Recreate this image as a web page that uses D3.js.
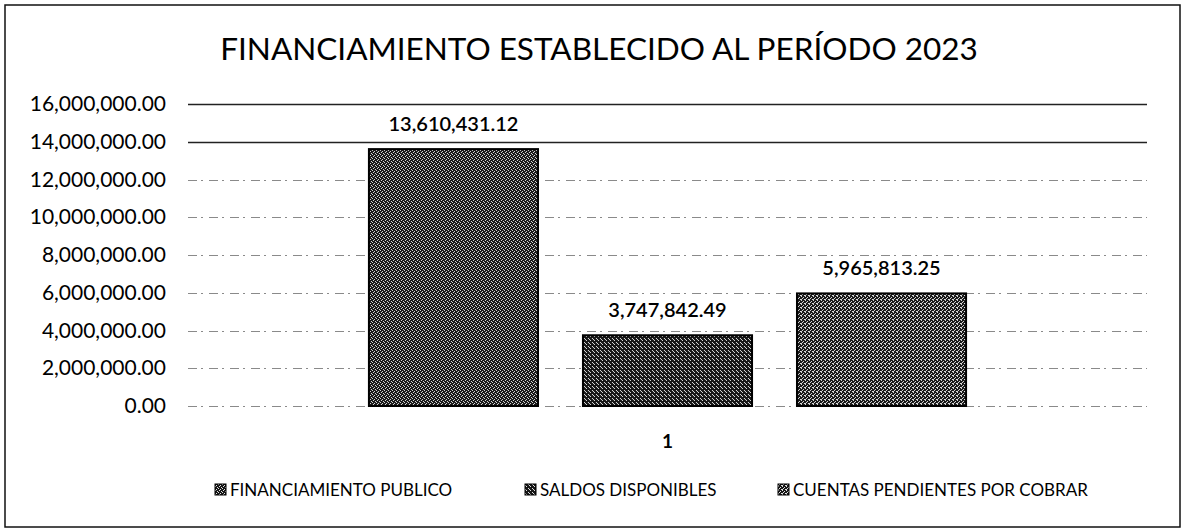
<!DOCTYPE html>
<html>
<head>
<meta charset="utf-8">
<script src="https://cdn.jsdelivr.net/npm/d3@7"></script>
<style>
  body { margin: 0; background: #fff; }
  text { font-family: Lato, "Open Sans", sans-serif; fill: #000; }
</style>
</head>
<body>
<svg id="chart" width="1185" height="531"></svg>
<script>
// data
var categories = ["1"];
var seriesNames = ["FINANCIAMIENTO PUBLICO", "SALDOS DISPONIBLES", "CUENTAS PENDIENTES POR COBRAR"];
var seriesValues = [13610431.12, 3747842.49, 5965813.25];
var yTicks = [0, 2000000, 4000000, 6000000, 8000000, 10000000, 12000000, 14000000, 16000000];
var chartTitle = "FINANCIAMIENTO ESTABLECIDO AL PERÍODO 2023";

var svg = d3.select("#chart");
var W = 1185, H = 531;
var plot = { left: 188, right: 1147, top: 104, bottom: 406 };

var fmt = d3.format(",.2f");

// halftone-ish fills, one per series (scan look)
var defs = svg.append("defs");
var dotSets = [
  [[0,0],[2,1],[1,3],[3,2]],
  [[1,0],[3,2],[0,3]],
  [[0,0],[2,1],[1,2],[3,3],[0,3]]
];
dotSets.forEach(function(dots, i) {
  var p = defs.append("pattern")
    .attr("id", "fill" + i)
    .attr("patternUnits", "userSpaceOnUse")
    .attr("width", 4).attr("height", 4);
  p.append("rect").attr("width", 4).attr("height", 4).attr("fill", "#161616");
  dots.forEach(function(d) {
    p.append("rect").attr("x", d[0]).attr("y", d[1])
      .attr("width", 1).attr("height", 1).attr("fill", "#e0e0e0");
  });
});

// outer frame
svg.append("rect")
  .attr("x", 5).attr("y", 5)
  .attr("width", W - 10).attr("height", H - 9)
  .attr("fill", "none").attr("stroke", "#111").attr("stroke-width", 1.5);

// title
svg.append("text")
  .attr("x", 599).attr("y", 60)
  .attr("text-anchor", "middle")
  .style("font-size", "31.5px")
  .text(chartTitle);

var y = d3.scaleLinear().domain([0, 16000000]).range([plot.bottom, plot.top]);

var x0 = d3.scaleBand()
  .domain(categories)
  .range([plot.left, plot.right])
  .paddingInner(0)
  .paddingOuter(0.303);

var x1 = d3.scaleBand()
  .domain(d3.range(seriesNames.length))
  .range([0, x0.bandwidth()])
  .paddingInner(0.21)
  .paddingOuter(0);

// grid lines
var grid = svg.append("g").attr("class", "grid");
grid.selectAll("line").data(yTicks).enter().append("line")
  .attr("x1", plot.left).attr("x2", plot.right)
  .attr("y1", function(d) { return Math.round(y(d)) + 0.5; })
  .attr("y2", function(d) { return Math.round(y(d)) + 0.5; })
  .attr("stroke", function(d) { return d >= 14000000 ? "#222" : "#8a8a8a"; })
  .attr("stroke-width", function(d) { return d >= 14000000 ? 1.5 : 1; })
  .attr("stroke-dasharray", function(d) { return d >= 14000000 ? null : "9,4,2,6"; });

// y axis labels
var yAxis = d3.axisLeft(y)
  .tickValues(yTicks)
  .tickFormat(fmt)
  .tickSize(0)
  .tickPadding(0);
svg.append("g")
  .attr("transform", "translate(" + 166 + ",0)")
  .call(yAxis)
  .call(function(g) { g.select(".domain").remove(); })
  .selectAll("text")
  .style("font-family", "Lato, sans-serif")
  .style("font-size", "21px")
  .attr("fill", "#000");

// bars
var groups = svg.selectAll(".cat").data(categories).enter().append("g")
  .attr("class", "cat")
  .attr("transform", function(c) { return "translate(" + x0(c) + ",0)"; });

groups.selectAll("rect").data(seriesValues).enter().append("rect")
  .attr("x", function(v, i) { return x1(i); })
  .attr("y", function(v) { return y(v); })
  .attr("width", x1.bandwidth())
  .attr("height", function(v) { return y(0) - y(v); })
  .attr("fill", function(v, i) { return "url(#fill" + i + ")"; })
  .attr("stroke", "#000")
  .attr("stroke-width", 2);

// value labels
groups.selectAll(".val").data(seriesValues).enter().append("text")
  .attr("class", "val")
  .attr("x", function(v, i) { return x1(i) + x1.bandwidth() / 2; })
  .attr("y", function(v) { return y(v) - 18; })
  .attr("text-anchor", "middle")
  .style("font-size", "20px")
  .style("font-weight", "600")
  .text(function(v) { return fmt(v); });

// category axis label
var xAxis = d3.axisBottom(x0).tickSize(0).tickPadding(0);
svg.append("g")
  .attr("transform", "translate(0," + 434 + ")")
  .call(xAxis)
  .call(function(g) { g.select(".domain").remove(); })
  .selectAll("text")
  .style("font-family", "Lato, sans-serif")
  .style("font-size", "19px")
  .style("font-weight", "bold")
  .attr("fill", "#000");

// legend
var legendX = [215, 525, 778];
var legend = svg.selectAll(".leg").data(seriesNames).enter().append("g")
  .attr("class", "leg")
  .attr("transform", function(d, i) { return "translate(" + legendX[i] + ",490)"; });
legend.append("rect")
  .attr("x", 0).attr("y", -6)
  .attr("width", 11).attr("height", 11)
  .attr("fill", function(d, i) { return "url(#fill" + i + ")"; })
  .attr("stroke", "#000");
legend.append("text")
  .attr("x", 15).attr("y", 0)
  .attr("dy", "0.35em")
  .style("font-size", "17px")
  .text(function(d) { return d; });
</script>
</body>
</html>
